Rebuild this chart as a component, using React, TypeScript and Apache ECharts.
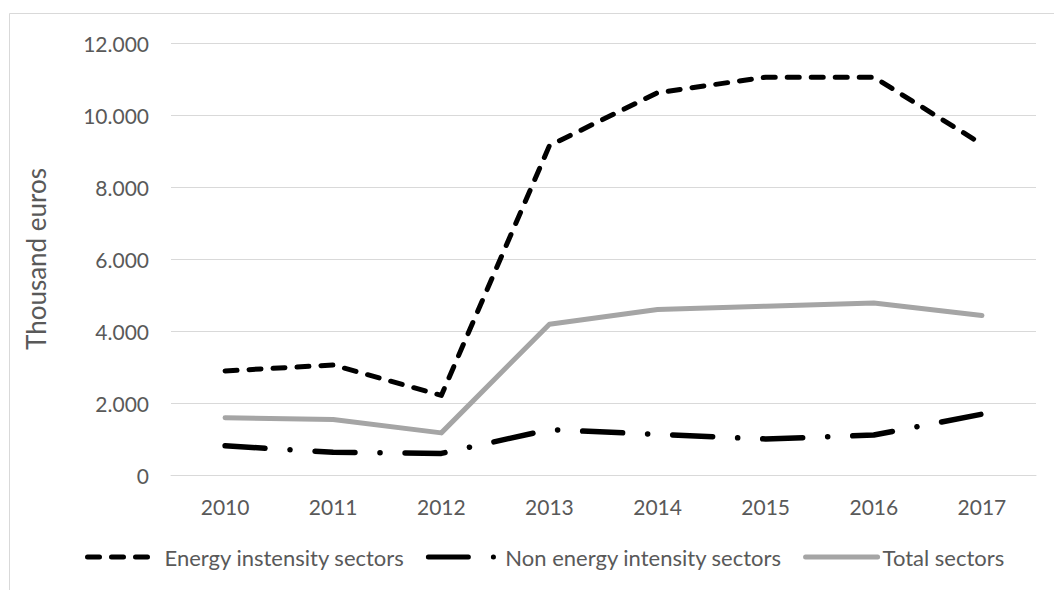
import React, { useEffect, useRef } from "react";
import * as echarts from "echarts";

const years = ["2010", "2011", "2012", "2013", "2014", "2015", "2016", "2017"];
const energyIntensity = [2890, 3055, 2210, 9150, 10620, 11050, 11050, 9190];
const nonEnergyIntensity = [810, 630, 600, 1260, 1130, 1000, 1110, 1690];
const totalSectors = [1590, 1540, 1170, 4190, 4600, 4690, 4780, 4430];
const seriesNames = ["Energy instensity sectors", "Non energy intensity sectors", "Total sectors"];
const yAxisTitle = "Thousand euros";

const FONT = "Lato, 'Open Sans', sans-serif";
const TEXT = "#595959";

function fmt(v: number): string {
  if (v === 0) return "0";
  const s = String(Math.round(v));
  return s.replace(/\B(?=(\d{3})+(?!\d))/g, ".");
}

export default function App() {
  const ref = useRef<HTMLDivElement>(null);
  useEffect(() => {
    if (!ref.current) return;
    const chart = echarts.init(ref.current, null, { renderer: "svg" });
    chart.setOption({
      animation: false,
      backgroundColor: "#ffffff",
      graphic: [
        {
          type: "rect",
          shape: { x: 9.5, y: 13.5, width: 1200, height: 800 },
          style: { fill: "none", stroke: "#D9D9D9", lineWidth: 1 },
          silent: true,
          z: -1,
        },
      ],
      grid: { left: 171, right: 18, top: 43, bottom: 115, containLabel: false },
      legend: {
        top: 541,
        left: 80,
        itemWidth: 72,
        itemHeight: 14,
        itemGap: 21,
        itemStyle: { opacity: 0 },
        lineStyle: { width: 5 },
        textStyle: { fontFamily: FONT, fontSize: 22, color: TEXT },
        data: seriesNames,
      },
      xAxis: {
        type: "category",
        data: years,
        boundaryGap: true,
        axisLine: { show: true, lineStyle: { color: "#D9D9D9", width: 1 } },
        axisTick: { show: false },
        axisLabel: { fontFamily: FONT, fontSize: 21, color: TEXT, margin: 21 },
      },
      yAxis: {
        type: "value",
        min: 0,
        max: 12000,
        interval: 2000,
        name: yAxisTitle,
        nameLocation: "middle",
        nameGap: 122,
        nameTextStyle: { fontFamily: FONT, fontSize: 26, color: TEXT },
        axisLine: { show: false },
        axisTick: { show: false },
        axisLabel: { fontFamily: FONT, fontSize: 21, color: TEXT, margin: 22, formatter: fmt },
        splitLine: { lineStyle: { color: "#D9D9D9", width: 1 } },
      },
      series: [
        {
          name: seriesNames[0],
          type: "line",
          data: energyIntensity,
          symbol: "none",
          color: "#000000",
          lineStyle: { color: "#000000", width: 5, type: [12, 12], cap: "round", join: "round" },
          z: 3,
        },
        {
          name: seriesNames[1],
          type: "line",
          data: nonEnergyIntensity,
          symbol: "none",
          color: "#000000",
          lineStyle: { color: "#000000", width: 5.5, type: [40, 25, 0.1, 25], cap: "round", join: "round" },
          z: 3,
        },
        {
          name: seriesNames[2],
          type: "line",
          data: totalSectors,
          symbol: "none",
          color: "#A5A5A5",
          lineStyle: { color: "#A5A5A5", width: 5, type: "solid", cap: "round", join: "round" },
          z: 2,
        },
      ],
    });
    return () => chart.dispose();
  }, []);
  return (
    <div
      ref={ref}
      style={{ position: "fixed", left: 0, top: 0, width: 1054, height: 590, background: "#fff" }}
    />
  );
}
